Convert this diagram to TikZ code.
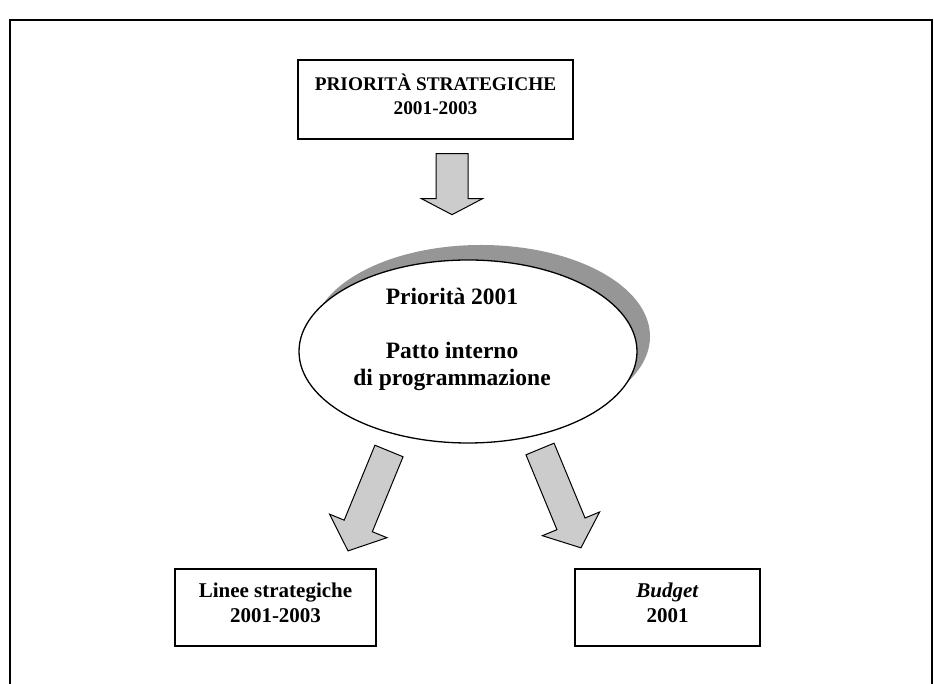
\documentclass[tikz,border=0pt]{standalone}
\usepackage{fontspec}
\setmainfont{Liberation Serif}
\usetikzlibrary{shapes.geometric,shadows}

\definecolor{arrowgray}{RGB}{204,204,204}
\definecolor{shadegray}{RGB}{150,150,150}

\tikzset{
  frameline/.style={line width=1.6pt, black},
  boxframe/.style={draw=black, line width=1.4pt, fill=white, inner sep=0pt},
  boxtext/.style={align=center, inner sep=0pt, font=\fontsize{19.3}{24}\selectfont\bfseries},
  ovaltext/.style={align=center, inner sep=0pt, font=\fontsize{23.5}{27}\selectfont\bfseries},
  oval/.style={ellipse, draw=black, line width=1.3pt, fill=white, inner sep=0pt,
    minimum width=338pt, minimum height=183pt,
    drop shadow={shadow xshift=13pt, shadow yshift=15pt, fill=shadegray, opacity=1}},
  fatarrow/.style={draw=black, line width=1pt, fill=arrowgray, line join=miter},
}

\begin{document}
\begin{tikzpicture}[x=1pt, y=1pt]
  \useasboundingbox (0,0) rectangle (934,684);

  % outer frame, open at the bottom
  \draw[frameline] (10,0) -- (10,664) -- (932,664) -- (932,0);

  % top box
  \node[boxframe, minimum width=275pt, minimum height=79pt] (prio) at (435.5,584.5) {};
  \node[boxtext] (priotext) at (435.5,590) {PRIORITÀ STRATEGICHE\\2001-2003};

  % central oval with shadow
  \node[oval] (patto) at (468,332.5) {};
  \node[ovaltext] (pattotext) at (452,344.5) {Priorità 2001\\[27pt]Patto interno\\di programmazione};

  % bottom boxes
  \node[boxframe, minimum width=201pt, minimum height=77pt] (linee) at (275.5,76.5) {};
  \node[boxtext, font=\fontsize{21}{24.5}\selectfont\bfseries] (lineetext) at (275.5,81) {Linee strategiche\\2001-2003};
  \node[boxframe, minimum width=185pt, minimum height=77pt] (budget) at (667.5,76.5) {};
  \node[boxtext, font=\fontsize{21}{24.5}\selectfont\bfseries] (budgettext) at (667.5,81) {\textit{Budget}\\2001};

  % block arrows
  \coordinate (downstart) at ([xshift=16.5pt, yshift=-14pt]prio.south);
  \begin{scope}[shift={(downstart)}, rotate=-90]
    \draw[fatarrow] (0,-16) -- (45,-16) -- (45,-30.5) -- (61,0) -- (45,30.5) -- (45,16) -- (0,16) -- cycle;
  \end{scope}

  \coordinate (leftstart) at (389,233);
  \begin{scope}[shift={(leftstart)}, rotate=247.7]
    \draw[fatarrow] (0,-15.2) -- (81,-15.2) -- (81,-31) -- (108,0) -- (81,31) -- (81,15.2) -- (0,15.2) -- cycle;
  \end{scope}

  \coordinate (rightstart) at (540,235);
  \begin{scope}[shift={(rightstart)}, rotate=292.5]
    \draw[fatarrow] (0,-15.2) -- (81,-15.2) -- (81,-31) -- (107,0) -- (81,31) -- (81,15.2) -- (0,15.2) -- cycle;
  \end{scope}
\end{tikzpicture}
\end{document}
